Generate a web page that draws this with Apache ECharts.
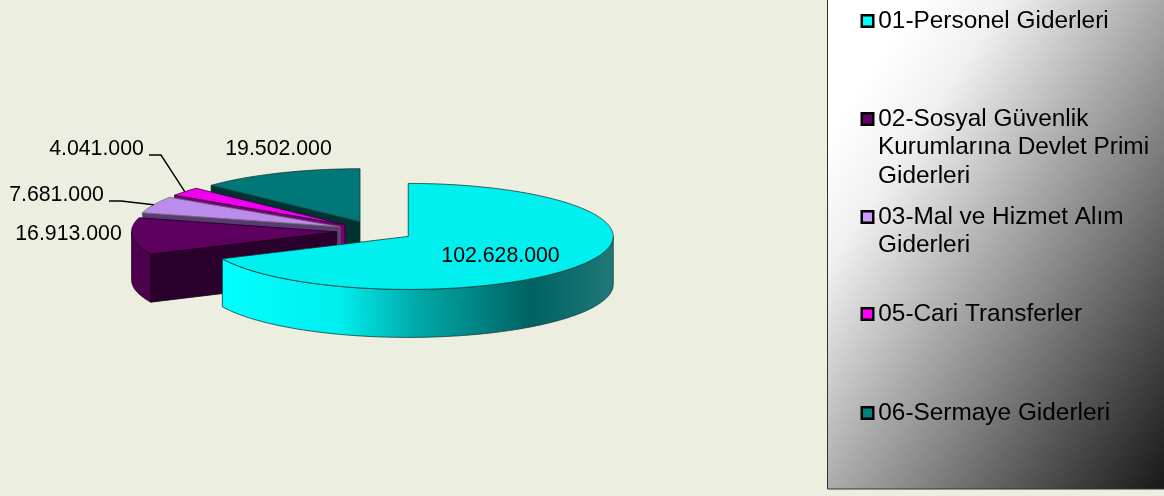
<!DOCTYPE html>
<html>
<head>
<meta charset="utf-8">
<style>html,body{margin:0;padding:0;background:#ECEFE0}#c{width:1164px;height:496px}</style>
<script src="https://cdn.jsdelivr.net/npm/echarts@6/dist/echarts.min.js"></script>
</head>
<body>
<div id="c"></div>
<script>
// ---- data ----
var categories = ['01-Personel Giderleri', '02-Sosyal Güvenlik\nKurumlarına Devlet Primi\nGiderleri', '03-Mal ve Hizmet Alım\nGiderleri', '05-Cari Transferler', '06-Sermaye Giderleri'];
var values = [102628000, 16913000, 7681000, 4041000, 19502000];

// ---- styles and layout ----
var FONT = '"Liberation Sans", Arial, sans-serif';
var LABEL_SIZE = 21.3;
var LEGEND_SIZE = 24.4;
var PIE = { cx: 375.4, cy: 231, rx: 205, ry: 53, depth: 48, explode: 0.19 };
var legendColors = ['#00FFFF', '#660066', '#CC99FF', '#FF00FF', '#008080'];
var topColors = ['#00F0F0', '#5E005F', '#BC8CEC', '#F000F0', '#007878'];
var cutColors = ['#006060', '#2A002C', '#5A3A72', '#7A007A', '#003232'];
var sideColors = ['#006060', '#4C004E', '#5A3A72', '#7A007A', '#003C3C'];
var strokeColors = ['#103838', '#1A001A', '#6A6A6A', '#300030', '#103838'];
var labelAnchors = [[500.5, 256], [68.5, 234.5], [56.5, 195.5], [96.5, 149], [278.5, 149]];
var leaders = [null, null, { x: 109, elbow: 12, y: 201 }, { x: 149, elbow: 12, y: 155 }, null];
var legendRows = [21, 119, 217, 314, 413];
var drawOrder = [4, 3, 2, 1, 0];

var total = values.reduce(function (a, b) { return a + b; }, 0);
var angles = [], acc = 0;
values.forEach(function (v) {
  var a0 = acc / total * 2 * Math.PI;
  acc += v;
  angles.push([a0, acc / total * 2 * Math.PI]);
});
function fmt(v) { return String(v).replace(/\B(?=(\d{3})+$)/g, '.'); }
function pt(c, a, dy) { return [c[0] + PIE.rx * Math.sin(a), c[1] - PIE.ry * Math.cos(a) + (dy || 0)]; }
function arc(c, a0, a1, dy) {
  var n = Math.max(2, Math.ceil((a1 - a0) / 0.01)), out = [];
  for (var i = 0; i <= n; i++) out.push(pt(c, a0 + (a1 - a0) * i / n, dy));
  return out;
}
function sliceCenter(i) {
  var m = (angles[i][0] + angles[i][1]) / 2;
  return [PIE.cx + PIE.explode * PIE.rx * Math.sin(m), PIE.cy - PIE.explode * PIE.ry * Math.cos(m)];
}
var cyanSide = new echarts.graphic.LinearGradient(0, 0, 1, 0, [
  { offset: 0, color: '#00FFFF' }, { offset: 0.3, color: '#00EEEE' },
  { offset: 0.5, color: '#00A8A8' }, { offset: 0.79, color: '#006262' }, { offset: 1, color: '#207878' }
]);

function renderSlice(i) {
  return function () {
    var c = sliceCenter(i), a0 = angles[i][0], a1 = angles[i][1], kids = [];
    var line = { stroke: strokeColors[i], lineWidth: 0.8 };
    function poly(points, fill) {
      kids.push({ type: 'polygon', shape: { points: points }, style: Object.assign({ fill: fill }, line) });
    }
    var d = PIE.depth;
    if (Math.sin(a0) < -1e-6) {
      var v = pt(c, a0);
      poly([c, v, [v[0], v[1] + d], [c[0], c[1] + d]], cutColors[i]);
    }
    if (Math.sin(a1) > 1e-6) {
      var w = pt(c, a1);
      poly([c, w, [w[0], w[1] + d], [c[0], c[1] + d]], cutColors[i]);
    }
    var s0 = Math.max(a0, Math.PI / 2), s1 = Math.min(a1, 3 * Math.PI / 2);
    if (s1 > s0) {
      poly(arc(c, s0, s1, 0).concat(arc(c, s0, s1, d).reverse()), i === 0 ? cyanSide : sideColors[i]);
    }
    poly([c].concat(arc(c, a0, a1, 0)), topColors[i]);
    if (leaders[i]) {
      var tip = pt(c, (a0 + a1) / 2), L = leaders[i];
      kids.push({ type: 'polyline', shape: { points: [[L.x, L.y], [L.x + L.elbow, L.y], tip] },
        style: { fill: null, stroke: '#000', lineWidth: 1.4 } });
    }
    kids.push({ type: 'text', x: labelAnchors[i][0], y: labelAnchors[i][1],
      style: { text: fmt(values[i]), fill: '#000', font: LABEL_SIZE + 'px ' + FONT, align: 'center', verticalAlign: 'middle' } });
    return { type: 'group', children: kids };
  };
}

var series = drawOrder.map(function (i, k) {
  return { type: 'custom', name: categories[i], coordinateSystem: 'none', z: 2 + k, silent: true,
    itemStyle: { color: legendColors[i] }, data: [[values[i]]], renderItem: renderSlice(i) };
});
var legends = categories.map(function (name, i) {
  return { show: true, left: 860.5, top: legendRows[i] - 14, padding: 0, itemWidth: 11.5, itemHeight: 11.5, itemGap: 0,
    orient: 'vertical', selectedMode: false, icon: 'rect', data: [name],
    itemStyle: { color: legendColors[i], borderColor: '#000', borderWidth: 2.5 },
    formatter: function (n) { return n.split('\n')[0]; },
    textStyle: { fontFamily: FONT, fontSize: LEGEND_SIZE, color: '#000', lineHeight: 28, padding: [0, 0, 0, 0] } };
});

var graphics = [{
  type: 'rect', z: -1, shape: { x: 827.5, y: -5, width: 345, height: 494 },
  style: { stroke: '#333', lineWidth: 1,
    fill: new echarts.graphic.LinearGradient(827, 0, 1286, 306, [
      { offset: 0, color: '#FFFFFF' }, { offset: 0.14, color: '#FFFFFF' }, { offset: 0.27, color: '#F0F0F0' },
      { offset: 0.5, color: '#AAAAAA' }, { offset: 0.75, color: '#606060' }, { offset: 1, color: '#181818' }
    ], true) }
}];
categories.forEach(function (name, i) {
  name.split('\n').slice(1).forEach(function (t, j) {
    graphics.push({ type: 'text', z: 10, x: 878, y: legendRows[i] + 28.5 * (j + 1),
      style: { text: t, fill: '#000', font: LEGEND_SIZE + 'px ' + FONT, verticalAlign: 'middle' } });
  });
});

var chart = echarts.init(document.getElementById('c'), null, { renderer: 'canvas' });
chart.setOption({ animation: false, backgroundColor: '#ECEFE0', tooltip: { show: false },
  legend: legends, series: series, graphic: graphics });
</script>
</body>
</html>
